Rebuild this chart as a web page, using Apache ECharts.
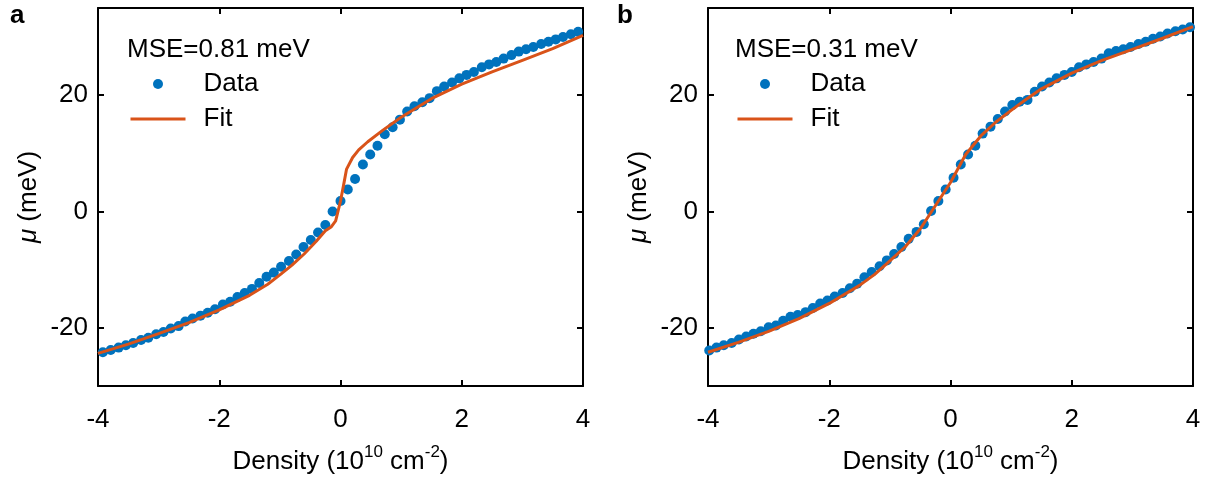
<!DOCTYPE html>
<html><head><meta charset="utf-8">
<script src="https://cdn.jsdelivr.net/npm/echarts@6/dist/echarts.min.js"></script>
<style>html,body{margin:0;padding:0;background:#fff}#c{width:1206px;height:480px}</style>
</head><body><div id="c"></div>
<script>
const xTicks = [-4, -2, 0, 2, 4];
const yTicks = [-20, 0, 20];
const panelLabels = ['a', 'b'];
const mseLabels = ['MSE=0.81 meV', 'MSE=0.31 meV'];

// Panel a — measured data
const densityA = [-3.92,-3.79,-3.66,-3.54,-3.42,-3.29,-3.17,-3.04,-2.92,-2.80,-2.67,-2.56,-2.44,-2.31,-2.19,-2.07,-1.94,-1.82,-1.70,-1.58,-1.46,-1.34,-1.22,-1.10,-0.98,-0.85,-0.73,-0.61,-0.49,-0.37,-0.25,-0.13,0.00,
  0.12,0.24,0.37,0.49,0.61,0.73,0.86,0.98,1.10,1.22,1.35,1.47,1.59,1.71,1.84,1.96,2.08,2.20,2.33,2.45,2.57,2.69,2.82,2.94,3.06,3.18,3.31,3.43,3.55,3.67,3.80,3.92];
const muA = [-24.2,-23.8,-23.4,-23.0,-22.6,-22.1,-21.7,-21.1,-20.7,-20.1,-19.7,-18.9,-18.4,-17.9,-17.4,-16.8,-16.0,-15.5,-14.7,-14.0,-13.3,-12.3,-11.2,-10.5,-9.5,-8.5,-7.4,-6.1,-4.9,-3.6,-2.3,0.0,1.8,
  3.8,5.6,8.1,9.8,11.3,13.3,14.5,15.8,17.2,18.1,18.8,19.5,20.7,21.5,22.2,22.9,23.5,24.0,24.8,25.3,25.7,26.3,26.9,27.5,27.9,28.3,28.8,29.2,29.6,30.0,30.5,30.9];
// Panel a — fit
const fitXA = [-4,-3.5,-3,-2.5,-2,-1.5,-1.2,-1,-0.8,-0.6,-0.4,-0.25,-0.15,-0.08,0,0.05,0.1,0.2,0.3,0.45,0.7,1,1.5,2,2.5,3,3.5,4];
const fitYA = [-24.4,-22.8,-21.0,-19.1,-16.9,-14.4,-12.5,-10.9,-9.2,-7.3,-5.1,-3.3,-2.6,-1.6,1.8,4.5,7.3,9.3,10.6,12.0,14.0,16.2,19.4,21.9,24.0,26.0,28.0,30.3];

// Panel b — measured data
const densityB = [-3.98,-3.86,-3.74,-3.61,-3.49,-3.37,-3.25,-3.13,-3.00,-2.88,-2.76,-2.64,-2.52,-2.39,-2.27,-2.15,-2.03,-1.91,-1.78,-1.66,-1.54,-1.42,-1.30,-1.17,-1.05,-0.93,-0.81,-0.69,-0.56,-0.44,-0.32,-0.20,-0.08,0.05,
  0.17,0.29,0.41,0.53,0.66,0.78,0.90,1.02,1.14,1.27,1.39,1.51,1.63,1.75,1.88,2.00,2.12,2.24,2.36,2.49,2.61,2.73,2.85,2.97,3.10,3.22,3.34,3.46,3.58,3.71,3.83,3.95];
const muB = [-23.9,-23.4,-23.0,-22.6,-22.0,-21.5,-21.0,-20.6,-19.9,-19.6,-18.8,-18.1,-17.8,-17.3,-16.6,-15.8,-15.3,-14.6,-14.0,-13.2,-12.4,-11.3,-10.4,-9.4,-8.4,-7.3,-6.1,-4.7,-3.5,-2.2,0.1,1.8,3.8,5.8,
  8.1,9.8,11.3,13.4,14.6,15.9,17.2,18.3,18.9,19.2,20.6,21.5,22.2,22.9,23.5,24.0,24.8,25.3,25.7,26.3,27.2,27.6,27.9,28.3,28.8,29.2,29.7,30.1,30.6,31.0,31.3,31.7];
// Panel b — fit
const fitXB = [-4,-3.5,-3,-2.5,-2,-1.5,-1.25,-1,-0.75,-0.5,-0.25,0,0.25,0.5,0.75,1,1.25,1.5,2,2.5,3,3.5,4];
const fitYB = [-24.2,-22.5,-20.6,-18.4,-15.8,-12.7,-10.8,-8.5,-6.1,-3.0,1.0,5.0,9.8,13.0,15.4,17.4,19.3,21.1,23.8,26.0,27.9,29.8,31.8];

const FONT = "'Liberation Sans', Arial, sans-serif";
const FS = 26;
const BLUE = '#0072BD', ORANGE = '#D95319';
const zip = (xs, ys) => xs.map((x, i) => [x, ys[i]]);

const gridLefts = [98, 708];
const grids = gridLefts.map(l => ({ left: l, top: 8, width: 485, height: 380 }));

const lineStyle = { color: '#000', width: 2 };
function xAxis(g, pos, main) {
  return {
    type: 'value', gridIndex: g, position: pos, min: -4, max: 4, interval: 2,
    axisLine: { show: true, onZero: false, lineStyle },
    axisTick: { show: true, inside: true, length: 6, lineStyle, customValues: xTicks },
    axisLabel: { show: main, margin: 21, fontSize: FS, color: '#000', fontFamily: FONT, customValues: xTicks },
    splitLine: { show: false },
    name: main ? '{n|Density (10}{s|10}{n| cm}{s|-2}{n|)}' : '',
    nameLocation: 'middle', nameGap: 58,
    nameTextStyle: {
      fontFamily: FONT, color: '#000',
      rich: {
        n: { fontSize: FS, fontFamily: FONT, color: '#000', lineHeight: 31, verticalAlign: 'bottom' },
        s: { fontSize: 17, fontFamily: FONT, color: '#000', lineHeight: 17, padding: [0, 0, 14, 0], verticalAlign: 'bottom' }
      }
    }
  };
}
function yAxis(g, pos, main) {
  return {
    type: 'value', gridIndex: g, position: pos, min: -30, max: 35,
    axisLine: { show: true, onZero: false, lineStyle },
    axisTick: { show: true, inside: true, length: 6, lineStyle, customValues: yTicks },
    axisLabel: { show: main, margin: 10, fontSize: FS, color: '#000', fontFamily: FONT, customValues: yTicks },
    splitLine: { show: false },
    name: main ? '{i|μ} (meV)' : '',
    nameLocation: 'middle', nameGap: 56, nameRotate: 90,
    nameTextStyle: {
      fontFamily: FONT, color: '#000', fontSize: FS,
      rich: {
        i: { fontSize: FS, fontFamily: FONT, fontStyle: 'italic', color: '#000' }
      }
    }
  };
}

const xAxes = [], yAxes = [];
[0, 1].forEach(g => {
  xAxes.push(xAxis(g, 'bottom', true), xAxis(g, 'top', false));
  yAxes.push(yAxis(g, 'left', true), yAxis(g, 'right', false));
});

const dataSets = [[densityA, muA, fitXA, fitYA], [densityB, muB, fitXB, fitYB]];
const series = [];
dataSets.forEach((d, g) => {
  series.push({
    type: 'scatter', name: 'Data', xAxisIndex: g * 2, yAxisIndex: g * 2,
    data: zip(d[0], d[1]), symbol: 'circle', symbolSize: 10,
    itemStyle: { color: BLUE, opacity: 1 }, z: 2, clip: false
  });
  series.push({
    type: 'line', name: 'Fit', xAxisIndex: g * 2, yAxisIndex: g * 2,
    data: zip(d[2], d[3]), symbol: 'none', smooth: false,
    lineStyle: { color: ORANGE, width: 3 }, itemStyle: { color: ORANGE }, z: 3
  });
});

const legendLefts = [129, 736];
const legends = legendLefts.map(l => ({
  data: [
    { name: 'Data' },
    { name: 'Fit', itemStyle: { color: 'rgba(0,0,0,0)', borderWidth: 0, opacity: 0 } }
  ],
  orient: 'vertical', left: l, top: 71, padding: 0,
  itemWidth: 55, itemHeight: 10, itemGap: 9, selectedMode: false,
  lineStyle: { width: 3, color: ORANGE },
  textStyle: { fontSize: FS, color: '#000', fontFamily: FONT, padding: [0, 0, 0, 13] }
}));

const titles = [
  { text: panelLabels[0], left: 10, top: 3, padding: 0, textStyle: { fontSize: 26, fontWeight: 'bold', color: '#000', fontFamily: FONT } },
  { text: panelLabels[1], left: 617, top: 3, padding: 0, textStyle: { fontSize: 26, fontWeight: 'bold', color: '#000', fontFamily: FONT } },
  { text: mseLabels[0], left: 127, top: 37, padding: 0, textStyle: { fontSize: FS, fontWeight: 'normal', color: '#000', fontFamily: FONT } },
  { text: mseLabels[1], left: 735, top: 37, padding: 0, textStyle: { fontSize: FS, fontWeight: 'normal', color: '#000', fontFamily: FONT } }
];

const chart = echarts.init(document.getElementById('c'), null, { renderer: 'canvas' });
chart.setOption({
  animation: false,
  backgroundColor: '#fff',
  title: titles,
  legend: legends,
  grid: grids,
  xAxis: xAxes,
  yAxis: yAxes,
  series
});
</script>
</body></html>
